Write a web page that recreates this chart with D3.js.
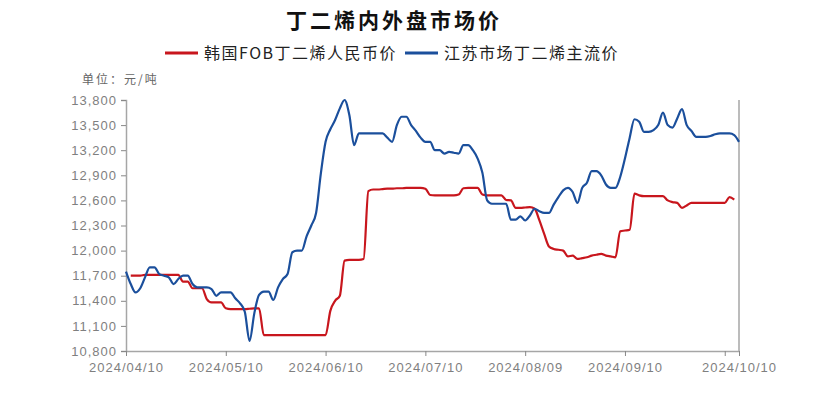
<!DOCTYPE html>
<html>
<head>
<meta charset="utf-8">
<script src="https://cdn.jsdelivr.net/npm/d3@7"></script>
<style>
  body { margin: 0; background: #fff; }
  svg { display: block; font-family: "Noto Sans CJK SC", "Noto Sans", sans-serif; }
</style>
</head>
<body>
<svg width="815" height="398"></svg>
<script>
var width = 815, height = 398;

// x轴是类目轴（交易日序号），标签只在部分位置显示
var xLabels = ["2024/04/10", "2024/05/10", "2024/06/10", "2024/07/10", "2024/08/09", "2024/09/10", "2024/10/10"];
var xLabelIdx = [0, 21, 42, 63, 84, 105, 129];
var xTickIdx = [0, 21, 42, 63, 84, 105, 126, 129];
var yTicks = [10800, 11100, 11400, 11700, 12000, 12300, 12600, 12900, 13200, 13500, 13800];

// 江苏市场丁二烯主流价 (index 0..129)
var jiangsu = [
  11750, 11600, 11500, 11550, 11680, 11800, 11800, 11720, 11700, 11680,
  11600, 11660, 11700, 11700, 11600, 11560, 11560, 11560, 11540, 11460,
  11500, 11500, 11500, 11430, 11370, 11270, 10920, 11250, 11470, 11510,
  11510, 11410, 11560, 11660, 11720, 11980, 12000, 12000, 12170, 12300,
  12450, 12920, 13300, 13450, 13560, 13700, 13800, 13620, 13260, 13400,
  13400, 13400, 13400, 13400, 13400, 13350, 13300, 13500, 13600, 13600,
  13500, 13430, 13350, 13300, 13300, 13200, 13200, 13160, 13180, 13170,
  13160, 13260, 13260, 13200, 13100, 12930, 12600, 12560, 12560, 12560,
  12560, 12370, 12370, 12410, 12360, 12420, 12500, 12470, 12450, 12450,
  12550, 12640, 12720, 12750, 12700, 12570, 12750, 12810, 12950, 12950,
  12900, 12790, 12750, 12750, 12880, 13100, 13350, 13570, 13540, 13420,
  13420, 13440, 13500, 13650, 13500, 13470, 13580, 13690, 13500, 13430,
  13360, 13360, 13360, 13370, 13390, 13400, 13400, 13400, 13380, 13300
];

// 韩国FOB丁二烯人民币价 (index 0..129, 首尾无数据)
var korea = [
  null, 11700, 11700, 11700, 11710, 11710, 11710, 11710, 11710, 11710,
  11710, 11710, 11630, 11630, 11550, 11550, 11550, 11420, 11380, 11380,
  11380, 11310, 11300, 11300, 11300, 11300, 11305, 11310, 11310, 10990,
  10990, 10990, 10990, 10990, 10990, 10990, 10990, 10990, 10990, 10990,
  10990, 10990, 10990, 11280, 11400, 11460, 11880, 11890, 11890, 11890,
  11900, 12710, 12730, 12730, 12735, 12740, 12740, 12745, 12745, 12750,
  12750, 12750, 12750, 12740, 12665, 12660, 12660, 12660, 12660, 12660,
  12670, 12745, 12750, 12750, 12750, 12670, 12660, 12660, 12660, 12660,
  12605, 12600, 12510, 12510, 12515, 12520, 12500, 12360, 12200, 12050,
  12020, 12010, 12000, 11930, 11940, 11900, 11910, 11920, 11940, 11950,
  11960, 11940, 11930, 11920, 12230, 12240, 12250, 12680, 12660, 12650,
  12650, 12650, 12650, 12650, 12600, 12580, 12570, 12510, 12540, 12570,
  12570, 12570, 12570, 12570, 12570, 12570, 12570, 12640, 12610, null
];

var series = [
  { name: "韩国FOB丁二烯人民币价", color: "#c8161d", values: korea },
  { name: "江苏市场丁二烯主流价", color: "#1b4f9c", values: jiangsu }
];

var margin = { left: 126, right: 76, top: 100, bottom: 47 };
var svg = d3.select("svg");

var x = d3.scaleLinear().domain([0, 129]).range([margin.left, width - margin.right]);
var y = d3.scaleLinear().domain([10800, 13800]).range([height - margin.bottom, margin.top]);

// 标题
svg.append("text")
  .attr("x", 394).attr("y", 28)
  .attr("text-anchor", "middle")
  .attr("font-size", 21).attr("font-weight", "bold")
  .attr("letter-spacing", 3)
  .attr("fill", "#111")
  .text("丁二烯内外盘市场价");

// 图例
var legendX = [165, 405];
series.forEach(function (s, i) {
  var g = svg.append("g").attr("transform", "translate(" + legendX[i] + ",53)");
  g.append("line").attr("x1", 0).attr("x2", 33).attr("y1", 0).attr("y2", 0)
    .attr("stroke", s.color).attr("stroke-width", 3);
  g.append("text").attr("x", 39).attr("y", 6)
    .attr("font-size", 16).attr("letter-spacing", 1.5)
    .attr("fill", "#222")
    .text(s.name);
});

// 单位
svg.append("text")
  .attr("x", 82).attr("y", 84)
  .attr("font-size", 12).attr("letter-spacing", 2)
  .attr("fill", "#666")
  .text("单位：元/吨");

// y轴
var yAxis = svg.append("g")
  .attr("transform", "translate(" + margin.left + ",0)")
  .call(d3.axisLeft(y).tickValues(yTicks).tickSize(5).tickPadding(4).tickFormat(d3.format(",")));
yAxis.select(".domain").attr("stroke", "#a6a6a6").attr("stroke-width", 1.5);
yAxis.selectAll(".tick line").attr("stroke", "#888");
yAxis.selectAll("text").attr("font-size", 13).attr("fill", "#7f7f7f")
  .attr("letter-spacing", 1)
  .attr("font-family", "'Liberation Sans', Arial, sans-serif");

// 右侧边框
svg.append("line")
  .attr("x1", x(129)).attr("x2", x(129))
  .attr("y1", y(13800)).attr("y2", y(10800))
  .attr("stroke", "#a6a6a6").attr("stroke-width", 1.5);

// x轴
var xAxis = svg.append("g")
  .attr("transform", "translate(0," + (height - margin.bottom) + ")")
  .call(d3.axisBottom(x).tickValues(xTickIdx).tickSize(5).tickSizeOuter(0)
    .tickFormat(function (d) {
      var k = xLabelIdx.indexOf(d);
      return k < 0 ? "" : xLabels[k];
    }));
xAxis.select(".domain").attr("stroke", "#a6a6a6").attr("stroke-width", 1.5);
xAxis.selectAll(".tick line").attr("stroke", "#888");
xAxis.selectAll("text").attr("font-size", 13).attr("fill", "#7f7f7f").attr("dy", "1em")
  .attr("letter-spacing", 1)
  .attr("font-family", "'Liberation Sans', Arial, sans-serif");

// 折线
var line = d3.line()
  .defined(function (d) { return d != null; })
  .x(function (d, i) { return x(i); })
  .y(function (d) { return y(d); })
  .curve(d3.curveMonotoneX);

svg.selectAll("path.series")
  .data(series)
  .enter().append("path")
  .attr("class", "series")
  .attr("fill", "none")
  .attr("stroke", function (d) { return d.color; })
  .attr("stroke-width", 2.2)
  .attr("stroke-linejoin", "round")
  .attr("d", function (d) { return line(d.values); });
</script>
</body>
</html>
